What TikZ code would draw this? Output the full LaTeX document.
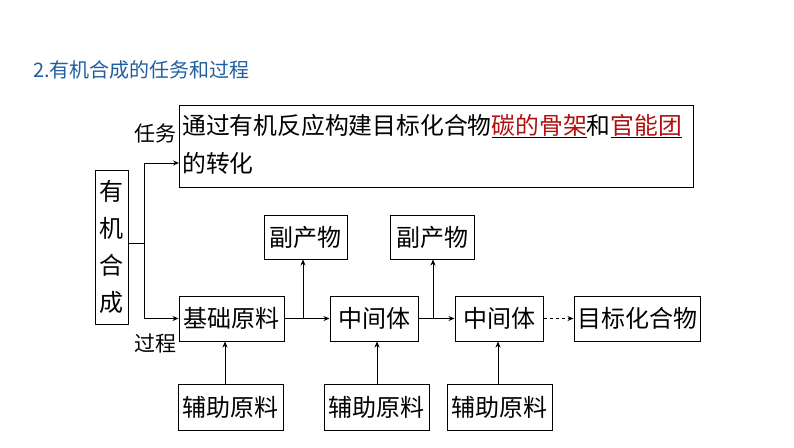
\documentclass[tikz,border=0pt]{standalone}
\usepackage{fontspec}
\setmainfont{Noto Sans CJK SC}
\usetikzlibrary{arrows.meta}
\definecolor{ttl}{HTML}{1F5FA0}
\definecolor{dred}{HTML}{B01010}
\tikzset{x=1pt,y=-1pt,
 bx/.style={draw,line width=1pt,inner sep=0pt,font=\fontsize{24}{26}\selectfont},
 ar/.style={-{Stealth[length=6pt,width=5pt]},line width=0.9pt},
 lab/.style={font=\fontsize{21}{23}\selectfont,inner sep=0pt}}
\newcommand{\bxat}[6]{\node[bx,minimum width=#4-#2,minimum height=#5-#3] (#1) at ({(#2+#4)/2},{(#3+#5)/2}) {#6};}
\begin{document}
\begin{tikzpicture}
\useasboundingbox[fill=white] (0,0) rectangle (794,447);
\node[anchor=west,text=ttl,font=\fontsize{20}{22}\selectfont,inner sep=0pt] (t) at (33,70) {2.有机合成的任务和过程};
\bxat{big}{179}{105}{693}{187}{}
\node[anchor=west,inner sep=0pt,font=\fontsize{23.8}{26}\selectfont] (l1) at (182,126) {通过有机反应构建目标化合物\underline{\textcolor{dred}{碳的骨架}}和\underline{\textcolor{dred}{官能团}}};
\node[anchor=west,inner sep=0pt,font=\fontsize{23.8}{26}\selectfont] (l2) at (182,163) {的转化};
\node[bx,minimum width=33,minimum height=154,align=center,font=\fontsize{24}{37}\selectfont] (org) at (111.5,247) {有\\机\\合\\成};
\bxat{a}{179}{296}{284}{341}{基础原料}
\bxat{b}{330}{296}{418}{341}{中间体}
\bxat{c}{455}{296}{543}{341}{中间体}
\bxat{d}{574}{296}{700}{341}{目标化合物}
\bxat{p1}{264}{215}{347}{259}{副产物}
\bxat{p2}{390}{215}{474}{259}{副产物}
\bxat{f1}{178}{384}{283}{430}{辅助原料}
\bxat{f2}{324}{384}{429}{430}{辅助原料}
\bxat{f3}{447}{384}{552}{430}{辅助原料}
\coordinate (j) at (144,243);
\coordinate (j1) at (303,318);
\coordinate (j2) at (433,318);
\coordinate (tk) at (179,163);
\draw[line width=0.9pt] (org.east|-j) -- (j);
\draw[ar] (j) |- (tk);
\draw[ar] (j) |- (a.west);
\node[lab] (lt) at (155,134) {任务};
\node[lab] (lg) at (155,344) {过程};
\draw[ar] (a) -- (b);
\draw[ar] (b) -- (c);
\draw[ar,dashed] (c) -- (d);
\draw[ar] (j1) -- (p1.south-|j1);
\draw[ar] (j2) -- (p2.south-|j2);
\draw[ar] (f1.north-|225,0) -- (a.south-|225,0);
\draw[ar] (f2.north-|377,0) -- (b.south-|377,0);
\draw[ar] (f3.north-|498,0) -- (c.south-|498,0);
\end{tikzpicture}
\end{document}
